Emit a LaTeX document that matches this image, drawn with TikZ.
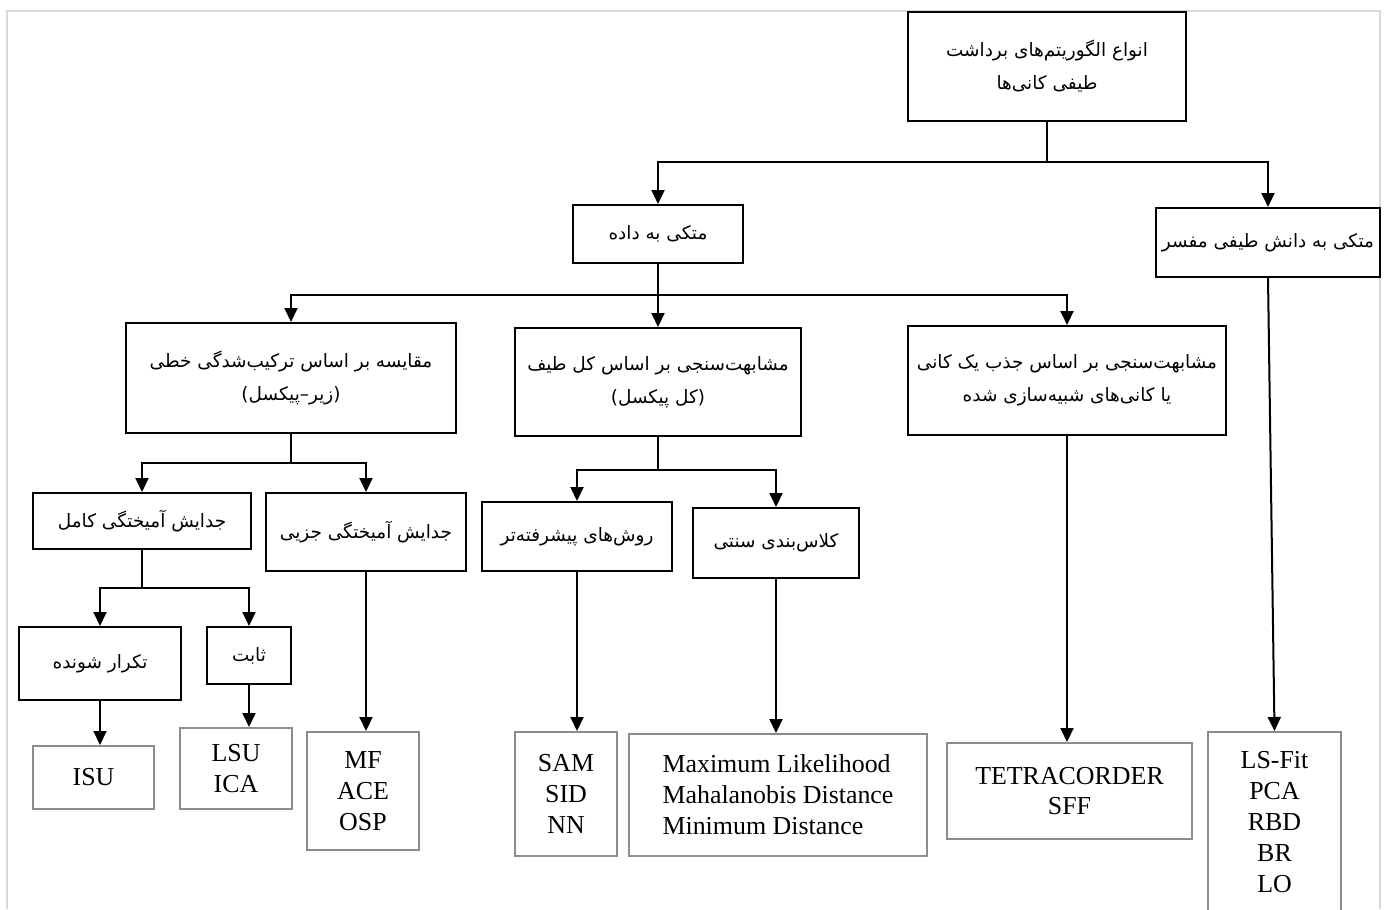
\documentclass[tikz,border=0pt]{standalone}
\usepackage{fontspec}
\setmainfont{Liberation Serif}
\newfontfamily\fa[Script=Arabic]{DejaVu Sans}
\TeXXeTstate=1
\usetikzlibrary{arrows.meta}
\newcommand\rl[1]{\beginR#1\endR}
\tikzset{
  wh/.style 2 args={minimum width=#1bp, minimum height=#2bp},
  box/.style={draw, line width=2bp, inner sep=0pt, align=center,
    font=\fa\fontsize{18.5}{33}\selectfont},
  gbox/.style={draw=black!45, line width=2bp, inner sep=0pt, align=center,
    font=\fontsize{26}{31}\selectfont},
  link/.style={line width=2bp},
  arr/.style={line width=2bp, -{Triangle[width=13bp,length=14bp]}}
}
\begin{document}
\begin{tikzpicture}[x=1bp,y=-1bp]
    \clip (0,0) rectangle (1386,909);
    \draw[black!15, line width=2bp] (7,909) -- (7,11) -- (1380,11) -- (1380,909);
    % top levels
    \node[box, wh={278}{109}] (root) at (1047,66.5) {\rl{انواع الگوریتم‌های برداشت}\\\rl{طیفی کانی‌ها}};
    \node[box, wh={170}{58}] (data) at (658,234) {\rl{متکی به داده}};
    \node[box, wh={224}{69}] (expert) at (1268,242.5) {\rl{متکی به دانش طیفی مفسر}};
    \node[box, wh={330}{110}] (lin) at (291,378) {\rl{مقایسه بر اساس ترکیب‌شدگی خطی}\\\rl{(زیر–پیکسل)}};
    \node[box, wh={286}{108}] (whole) at (658,382) {\rl{مشابهت‌سنجی بر اساس کل طیف}\\\rl{(کل پیکسل)}};
    \node[box, wh={318}{109}] (absorb) at (1067,380.5) {\rl{مشابهت‌سنجی بر اساس جذب یک کانی}\\\rl{یا کانی‌های شبیه‌سازی شده}};
    % sub classes
    \node[box, wh={218}{56}] (full) at (142,521) {\rl{جدایش آمیختگی کامل}};
    \node[box, wh={200}{78}] (partial) at (366,532) {\rl{جدایش آمیختگی جزیی}};
    \node[box, wh={162}{73}] (iter) at (100,663.5) {\rl{تکرار شونده}};
    \node[box, wh={84}{57}] (fixed) at (249,655.5) {\rl{ثابت}};
    \node[box, wh={190}{69}] (adv) at (577,536.5) {\rl{روش‌های پیشرفته‌تر}};
    \node[box, wh={166}{70}] (trad) at (776,543) {\rl{کلاس‌بندی سنتی}};
    % methods
    \node[gbox, wh={121}{63}] (isu) at (93.5,777.5) {ISU};
    \node[gbox, wh={112}{81}] (lsu) at (236,768.5) {LSU\\ICA};
    \node[gbox, wh={112}{118}] (mf) at (363,791) {MF\\ACE\\OSP};
    \node[gbox, wh={102}{124}] (sam) at (566,794) {SAM\\SID\\NN};
    \node[gbox, wh={298}{122}, align=left] (ml) at (778,795) {Maximum Likelihood\\Mahalanobis Distance\\Minimum Distance};
    \node[gbox, wh={245}{96}] (tetra) at (1069.5,791) {TETRACORDER\\SFF};
    \node[gbox, wh={133}{180}] (lsfit) at (1274.5,822) {LS-Fit\\PCA\\RBD\\BR\\LO};
    % connectors
    \coordinate (j1) at (1047,162);
    \coordinate (j2) at (658,295);
    \coordinate (j3) at (291,463);
    \coordinate (j4) at (658,470);
    \coordinate (j5) at (142,588);
    \draw[link] (root.south) -- (j1);
    \foreach \t in {data,expert} \draw[arr] (j1) -| (\t.north);
    \draw[link] (data.south) -- (j2);
    \foreach \t in {lin,whole,absorb} \draw[arr] (j2) -| (\t.north);
    \draw[link] (lin.south) -- (j3);
    \foreach \t in {full,partial} \draw[arr] (j3) -| (\t.north);
    \draw[link] (whole.south) -- (j4);
    \foreach \t in {adv,trad} \draw[arr] (j4) -| (\t.north);
    \draw[link] (full.south) -- (j5);
    \foreach \t in {iter,fixed} \draw[arr] (j5) -| (\t.north);
    \draw[arr] (iter.south) -- (iter.south |- isu.north);
    \draw[arr] (fixed.south) -- (fixed.south |- lsu.north);
    \draw[arr] (partial.south) -- (partial.south |- mf.north);
    \draw[arr] (adv.south) -- (adv.south |- sam.north);
    \draw[arr] (trad.south) -- (trad.south |- ml.north);
    \draw[arr] (absorb.south) -- (absorb.south |- tetra.north);
    \draw[arr] (expert.south) -- (lsfit.north);
\end{tikzpicture}
\end{document}
